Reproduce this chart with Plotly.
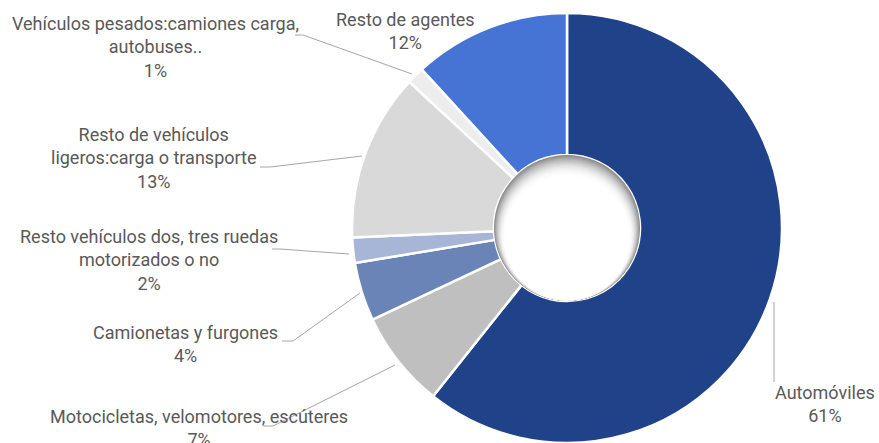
import plotly.graph_objects as go

W, H = 879, 443

categories = [
    "Automóviles",
    "Motocicletas, velomotores, escúteres",
    "Camionetas y furgones",
    "Resto vehículos dos, tres ruedas motorizados o no",
    "Resto de vehículos ligeros:carga o transporte",
    "Vehículos pesados:camiones carga, autobuses..",
    "Resto de agentes",
]
values = [60.7, 7.3, 4.4, 1.9, 12.6, 1.3, 11.8]
pct_labels = ["61%", "7%", "4%", "2%", "13%", "1%", "12%"]
label_lines = [
    ["Automóviles"],
    ["Motocicletas, velomotores, escúteres"],
    ["Camionetas y furgones"],
    ["Resto vehículos dos, tres ruedas", "motorizados o no"],
    ["Resto de vehículos", "ligeros:carga o transporte"],
    ["Vehículos pesados:camiones carga,", "autobuses.."],
    ["Resto de agentes"],
]
colors = ["#1F4289", "#BFBFBF", "#6B84B7", "#A7B6D7", "#D9D9D9", "#EDEDED", "#4674D4"]

# layout (pixel) positions of labels and leader lines
label_pos = [(825, 404), (199, 428), (185, 344), (149, 260), (154, 158), (155, 47), (405, 31)]
leaders = [
    [(774, 302), (774, 382)],
    [(263, 426), (273, 426), (395, 365)],
    [(282, 341), (293, 341), (360, 293)],
    [(272, 249), (280, 249), (349, 254)],
    [(260, 167), (270, 167), (362, 156)],
    [(295, 35), (303, 35), (412, 74)],
    None,
]

CX, CY, R = 567, 228, 215
HOLE_R = 73

def px(x):
    return x / W

def py(y):
    return 1 - y / H

fig = go.Figure(go.Pie(
    labels=categories,
    values=values,
    sort=False,
    direction="clockwise",
    rotation=0,
    hole=HOLE_R / R,
    marker=dict(colors=colors, line=dict(color="white", width=2.5)),
    textinfo="none",
    hoverinfo="label+percent",
    domain=dict(x=[px(CX - R), px(CX + R)], y=[py(CY + R), py(CY - R)]),
))

shapes = []
# inner-shadow effect of the hole
N = 18
for k in range(N + 1):
    t = k / N
    c = int(255 - (255 - 140) * (1 - t) ** 2.0)
    r = HOLE_R - k * 0.6
    cy = CY + k * 0.55
    shapes.append(dict(type="circle", xref="paper", yref="paper", layer="above",
                       x0=px(CX - r), x1=px(CX + r), y0=py(cy + r), y1=py(cy - r),
                       fillcolor=f"rgb({c},{c},{c})", line=dict(width=0)))

for pts in leaders:
    if not pts:
        continue
    path = "M " + " L ".join(f"{px(x)},{py(y)}" for x, y in pts)
    shapes.append(dict(type="path", xref="paper", yref="paper", path=path,
                       line=dict(color="#A6A6A6", width=1)))

annotations = []
for lines, pct, (x, y) in zip(label_lines, pct_labels, label_pos):
    annotations.append(dict(
        x=px(x), y=py(y), xref="paper", yref="paper",
        text="<br>".join(lines + [pct]), showarrow=False,
        xanchor="center", yanchor="middle", align="center",
        font=dict(family="Roboto", size=18, color="#595959"),
    ))

fig.update_layout(
    width=W, height=H,
    margin=dict(l=0, r=0, t=0, b=0),
    paper_bgcolor="white", plot_bgcolor="white",
    showlegend=False,
    shapes=shapes,
    annotations=annotations,
)

fig.write_html("out.html", config={"displayModeBar": False},
               post_script="document.body.style.margin='0';document.body.style.overflow='hidden';")
